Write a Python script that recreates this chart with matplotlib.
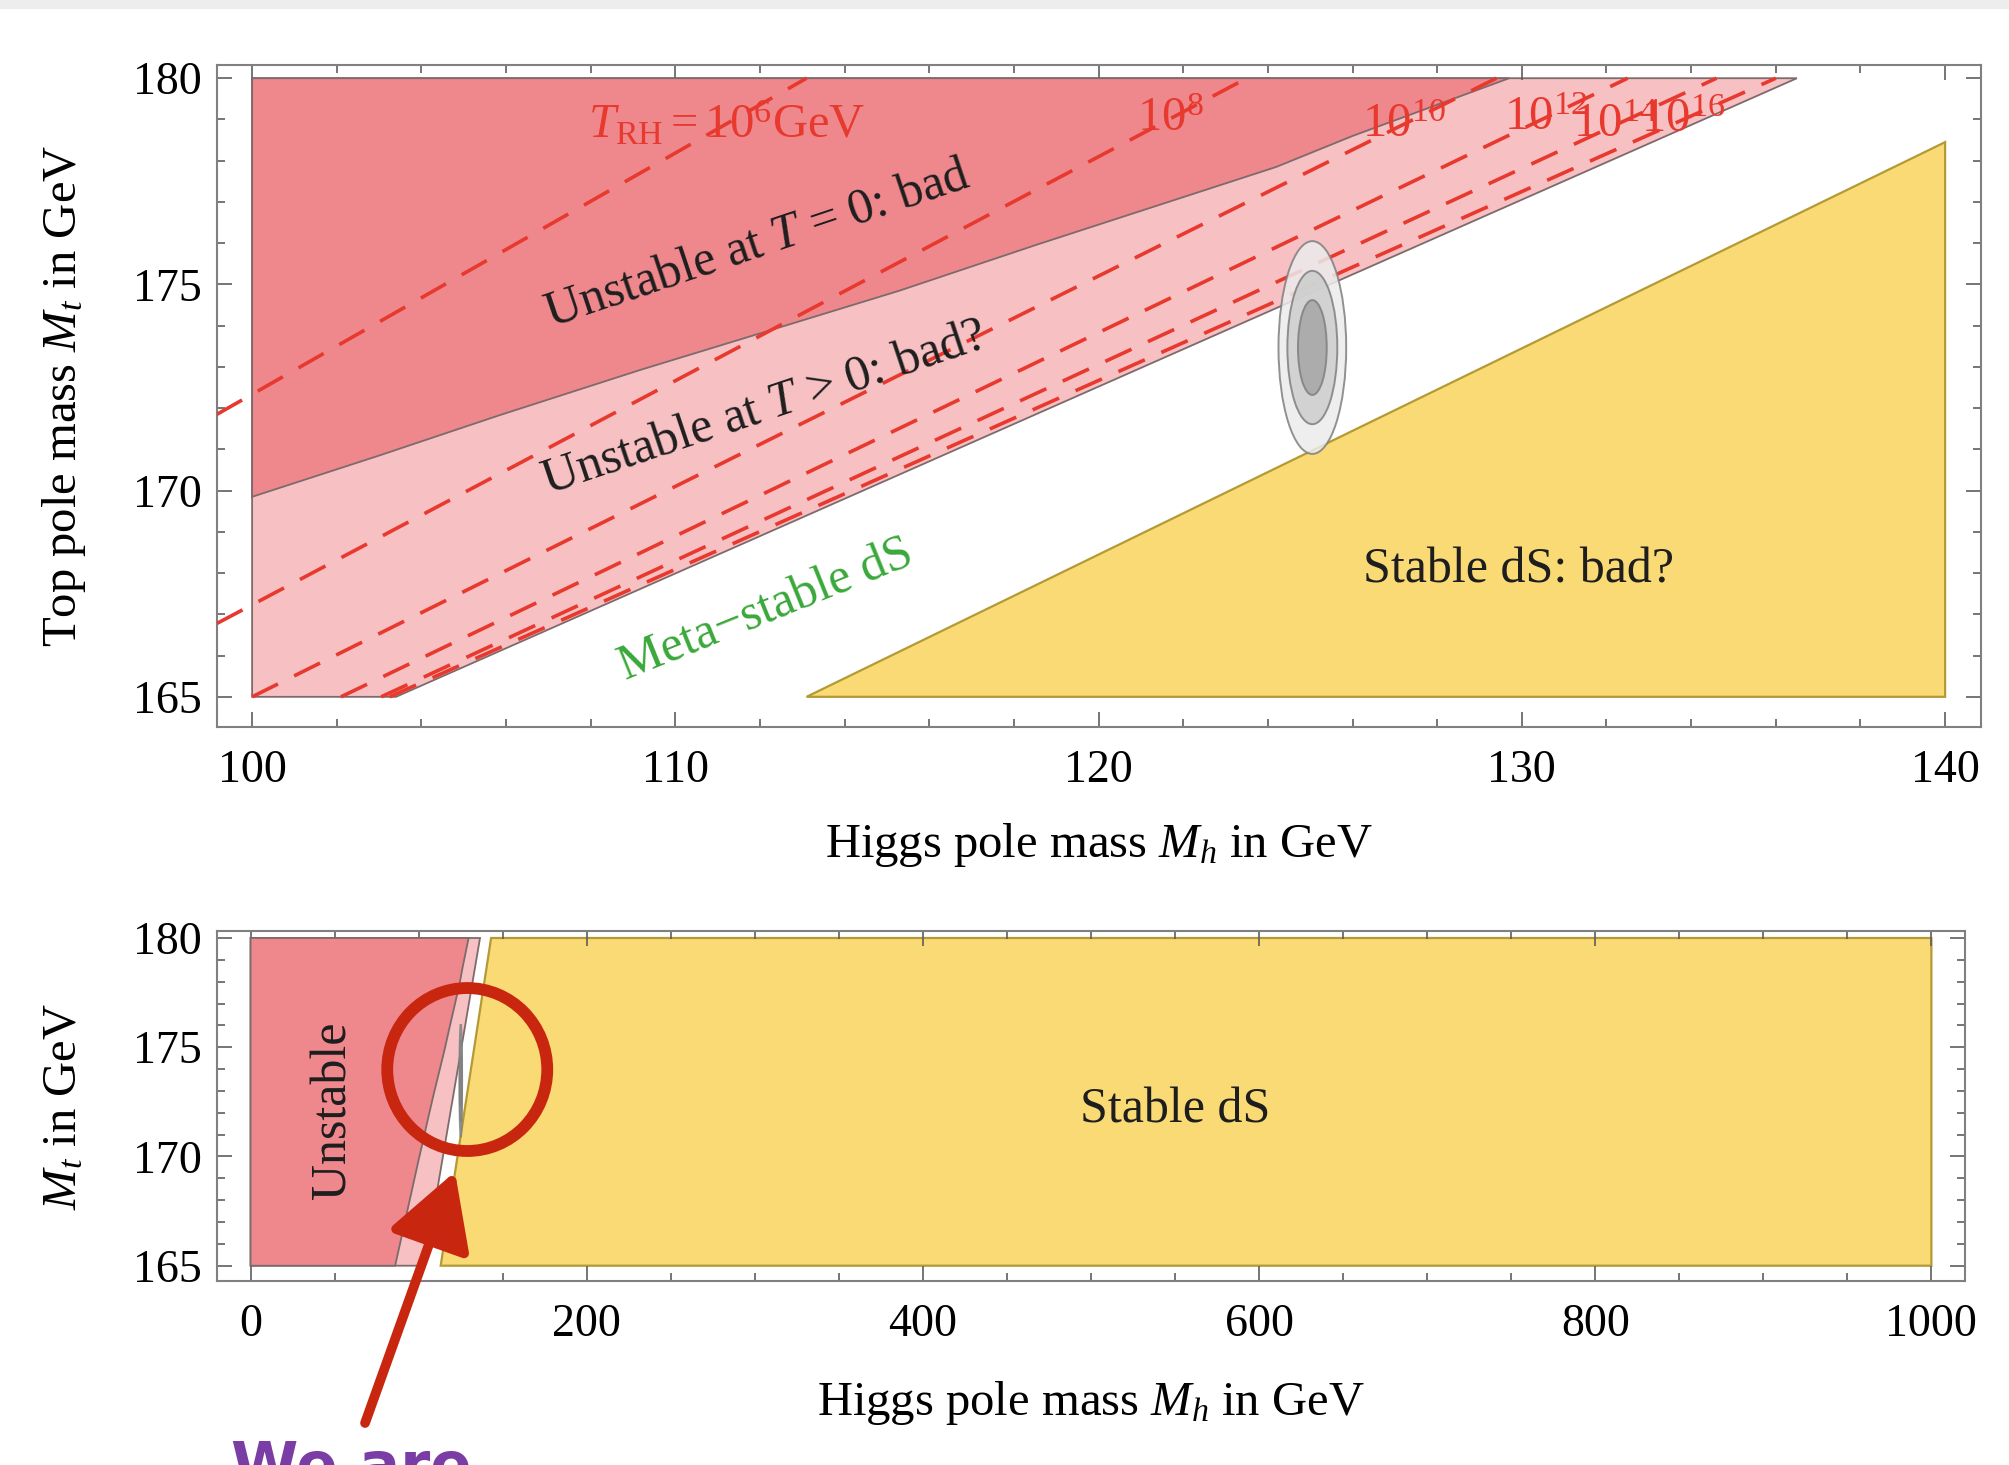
import numpy as np
import matplotlib
matplotlib.use("Agg")
import matplotlib.pyplot as plt
from matplotlib.patches import Polygon, Ellipse, Rectangle
from matplotlib.ticker import MultipleLocator

plt.rcParams['font.family'] = ['Liberation Serif', 'DejaVu Serif']
plt.rcParams['mathtext.fontset'] = 'custom'
plt.rcParams['mathtext.rm'] = 'Liberation Serif'
plt.rcParams['mathtext.it'] = 'Liberation Serif:italic'
plt.rcParams['mathtext.bf'] = 'Liberation Serif:bold'

# --- values (GeV) ---
# edge of the region unstable already at T = 0
unstable_mh = [100.0, 103.0, 105.85, 109.15, 112.5, 115.3, 118.5, 121.5, 124.2, 126.0, 129.7]
unstable_mt = [169.85, 170.85, 171.83, 172.92, 173.97, 174.85, 175.95, 176.95, 177.85, 178.6, 180.0]
unstable_mh_at165 = 86.0   # only visible in the wide panel

# lower edge of "unstable at T > 0"
meta_mh = [103.4, 136.5]
meta_mt = [165.0, 180.0]

# edge of the stable dS region
stable_mh = [113.1, 143.1]
stable_mt = [165.0, 180.0]

# reheating temperature contours (start / end of each dashed line)
trh_exp = [6, 8, 10, 12, 14, 16]
trh_mh_start = [99.17, 99.17, 100.0, 102.1, 103.05, 103.25]
trh_mt_start = [171.85, 166.78, 165.0, 165.0, 165.0, 165.0]
trh_mh_end = [113.1, 123.5, 129.4, 132.5, 134.6, 136.0]
trh_mt_end = [180.0, 180.0, 180.0, 180.0, 180.0, 180.0]
trh_label_mh = [111.2, 121.7, 127.2, 130.55, 132.2, 133.8]

# measured Higgs / top mass, 1-2-3 sigma ellipses
meas_mh, meas_mt = 125.05, 173.47
sigma_mh = [0.80, 0.59, 0.34]
sigma_mt = [2.58, 1.86, 1.15]

c_dark = '#EF888D'
c_light = '#F7C0C3'
c_yellow = '#F9DA75'
c_line = '#E8392E'
c_edge = '#7D6A6B'
c_ell = ['#ECECEC', '#CDCDCD', '#A6A6A6']


def draw_regions(ax, mh_min, mh_max):
    # light pink: unstable at T > 0
    light = [(mh_min, 165.0)] + list(zip(meta_mh, meta_mt)) + [(mh_min, 180.0)]
    ax.add_patch(Polygon(light, closed=True, fc=c_light, ec=c_edge, lw=1.3, zorder=1))

    # dark pink: unstable at T = 0
    dark = list(zip(unstable_mh, unstable_mt)) + [(mh_min, 180.0)]
    if mh_min < unstable_mh[0]:
        dark = [(mh_min, 165.0), (unstable_mh_at165, 165.0)] + dark
    ax.add_patch(Polygon(dark, closed=True, fc=c_dark, ec=c_edge, lw=1.3, zorder=2))

    # yellow: stable dS
    yel = [(stable_mh[0], stable_mt[0])]
    if mh_max < stable_mh[1]:
        yel += [(mh_max, np.interp(mh_max, stable_mh, stable_mt)), (mh_max, 165.0)]
    else:
        yel += [(stable_mh[1], stable_mt[1]), (mh_max, 180.0), (mh_max, 165.0)]
    ax.add_patch(Polygon(yel, closed=True, fc=c_yellow, ec='#B49A35', lw=1.6, zorder=1))


def draw_ellipses(ax):
    for sx, sy, fc in zip(sigma_mh, sigma_mt, c_ell):
        ax.add_patch(Ellipse((meas_mh, meas_mt), 2 * sx, 2 * sy, fc=fc, ec='#7F7F7F',
                             lw=1.4, alpha=0.85, zorder=6))


def style_axes(ax, xmaj, xmin, xlim, ylim):
    ax.set_xlim(*xlim)
    ax.set_ylim(*ylim)
    ax.xaxis.set_major_locator(MultipleLocator(xmaj))
    ax.xaxis.set_minor_locator(MultipleLocator(xmin))
    ax.yaxis.set_major_locator(MultipleLocator(5))
    ax.yaxis.set_minor_locator(MultipleLocator(1))
    ax.tick_params(which='both', direction='in', top=True, right=True,
                   color='#5E5E5E', width=1.2, labelsize=33)
    ax.tick_params(which='major', length=11)
    ax.tick_params(which='minor', length=6)
    ax.tick_params(axis='x', pad=16)
    ax.tick_params(axis='y', pad=11)
    for sp in ax.spines.values():
        sp.set_color('#808080')
        sp.set_linewidth(1.5)


fig = plt.figure(figsize=(20.09, 14.65), dpi=100)
fig.patches.append(Rectangle((0, 0.994), 1, 0.006, transform=fig.transFigure,
                             fc='#EDEDED', ec='none'))

# ---------------- upper panel ----------------
ax1 = fig.add_axes([0.1080, 0.5038, 0.8781, 0.4521])
draw_regions(ax1, 100.0, 140.0)

for i, e in enumerate(trh_exp):
    ax1.plot([trh_mh_start[i], trh_mh_end[i]], [trh_mt_start[i], trh_mt_end[i]],
             color=c_line, lw=2.6, dashes=(8, 5), zorder=4)
    ly = np.interp(trh_label_mh[i], [trh_mh_start[i], trh_mh_end[i]],
                   [trh_mt_start[i], trh_mt_end[i]])
    if i == 0:
        lab = r'$T_{\rm RH} = 10^{%d}$GeV' % e
    else:
        lab = r'$10^{%d}$' % e
    ax1.text(trh_label_mh[i], ly, lab, color=c_line, fontsize=35,
             ha='center', va='center', zorder=5)

draw_ellipses(ax1)

ax1.text(111.94, 175.98, r'Unstable at $T$ = 0: bad', fontsize=36, rotation=18.5,
         rotation_mode='anchor', ha='center', va='center', color='#1E1E1E', zorder=7)
ax1.text(112.1, 172.0, r'Unstable at $T$ > 0: bad?', fontsize=36, rotation=18.5,
         rotation_mode='anchor', ha='center', va='center', color='#1E1E1E', zorder=7)
ax1.text(112.15, 167.1, 'Meta\u2212stable dS', fontsize=36, rotation=22,
         rotation_mode='anchor', ha='center', va='center', color='#3AA83A', zorder=7)
ax1.text(129.93, 168.07, 'Stable dS: bad?', fontsize=36,
         ha='center', va='center', color='#1E1E1E', zorder=7)

style_axes(ax1, 10, 2, (99.17, 140.85), (164.27, 180.33))
ax1.set_xlabel(r'Higgs pole mass $M_h$ in GeV', fontsize=35, va='center')
ax1.xaxis.set_label_coords(0.5, -0.179)
ax1.set_ylabel(r'Top pole mass $M_t$ in GeV', fontsize=35, va='center')
ax1.yaxis.set_label_coords(-0.0867, 0.5)

# ---------------- lower panel ----------------
ax2 = fig.add_axes([0.1080, 0.1256, 0.8701, 0.2386])
draw_regions(ax2, 0.0, 1000.0)
draw_ellipses(ax2)

ax2.text(49, 172.1, 'Unstable', fontsize=36, rotation=90, ha='center', va='center',
         color='#1E1E1E', zorder=7)
ax2.text(550, 172.1, 'Stable dS', fontsize=36, ha='center', va='center',
         color='#1E1E1E', zorder=7)

style_axes(ax2, 200, 50, (-20.0, 1020.0), (164.3, 180.3))
ax2.set_xlabel(r'Higgs pole mass $M_h$ in GeV', fontsize=35, va='center')
ax2.xaxis.set_label_coords(0.5, -0.349)
ax2.set_ylabel(r'$M_t$ in GeV', fontsize=35, va='center')
ax2.yaxis.set_label_coords(-0.0875, 0.5)

# hand drawn marker: "We are here"
ax2.add_patch(Ellipse((128.9, 173.98), 95.2, 7.46, fill=False, ec='#C8260F', lw=8.5,
                      angle=0, zorder=9, clip_on=False))
ax2.annotate('', xy=(121.6, 169.3), xytext=(68.1, 157.8),
             arrowprops=dict(arrowstyle='-|>,head_length=4.6,head_width=2.6',
                             color='#C8260F', lw=7, mutation_scale=10,
                             shrinkA=0, shrinkB=0),
             annotation_clip=False, zorder=9)
fig.text(231 / 2009, 0.0175, 'We are', family='DejaVu Sans', fontweight='bold',
         fontsize=44, color='#7A3CA5', ha='left', va='top')

fig.savefig('out.png', dpi=100)
